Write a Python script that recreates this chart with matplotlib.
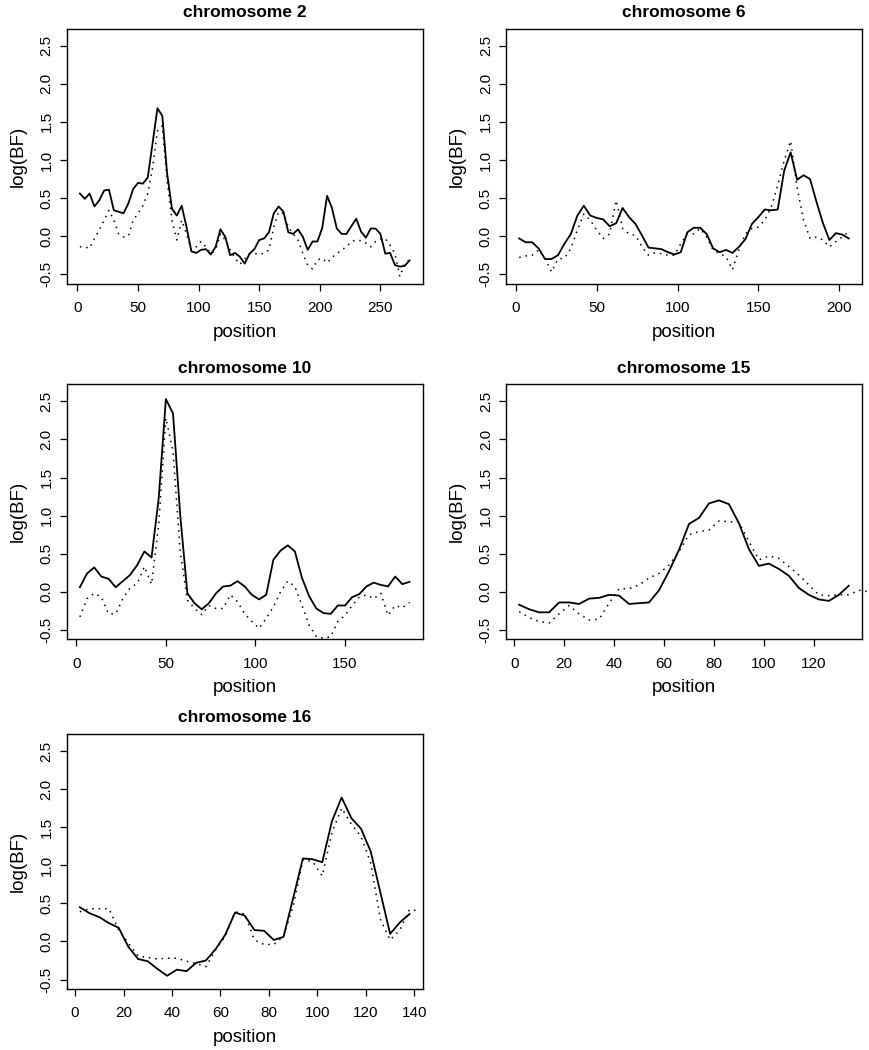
import matplotlib.pyplot as plt
import numpy as np

plt.rcParams['font.family'] = ['Liberation Sans', 'DejaVu Sans']

# log(BF) along each chromosome, solid and dotted curve (positions every 4 units from 2)
chr2_solid = [0.56, 0.49, 0.56, 0.39, 0.47, 0.60, 0.61, 0.34, 0.32, 0.30, 0.43, 0.62,
              0.70, 0.69, 0.77, 1.22, 1.68, 1.58, 0.82, 0.36, 0.27, 0.40, 0.12, -0.20,
              -0.22, -0.18, -0.17, -0.24, -0.14, 0.09, -0.01, -0.25, -0.22, -0.27, -0.36, -0.23,
              -0.17, -0.05, -0.03, 0.05, 0.30, 0.39, 0.32, 0.05, 0.03, 0.09, -0.01, -0.18,
              -0.07, -0.07, 0.11, 0.53, 0.37, 0.10, 0.03, 0.03, 0.13, 0.23, 0.06, -0.02,
              0.10, 0.10, 0.03, -0.23, -0.22, -0.38, -0.40, -0.39, -0.32]
chr2_dotted = [-0.14, -0.14, -0.16, -0.03, 0.08, 0.21, 0.34, 0.21, 0.03, -0.01, 0.0, 0.21,
               0.30, 0.40, 0.56, 0.90, 1.38, 1.45, 0.73, 0.21, -0.05, 0.21, 0.03, -0.18,
               -0.14, -0.07, -0.14, -0.23, -0.18, 0.03, -0.05, -0.18, -0.29, -0.37, -0.30, -0.23,
               -0.23, -0.23, -0.23, -0.18, 0.12, 0.32, 0.30, 0.12, 0.03, -0.05, -0.23, -0.38,
               -0.43, -0.31, -0.29, -0.35, -0.28, -0.23, -0.18, -0.14, -0.07, -0.05, -0.06, -0.09,
               -0.14, -0.07, -0.04, -0.03, -0.12, -0.23, -0.53, -0.36, -0.31]

chr6_solid = [-0.03, -0.08, -0.08, -0.16, -0.30, -0.30, -0.25, -0.10, 0.03, 0.27, 0.40, 0.27,
              0.24, 0.22, 0.13, 0.17, 0.37, 0.25, 0.16, 0.01, -0.15, -0.16, -0.17, -0.21,
              -0.24, -0.21, 0.05, 0.11, 0.11, 0.03, -0.16, -0.21, -0.18, -0.22, -0.14, -0.04,
              0.16, 0.25, 0.35, 0.34, 0.35, 0.86, 1.10, 0.74, 0.80, 0.75, 0.45, 0.17,
              -0.05, 0.04, 0.02, -0.03]
chr6_dotted = [-0.28, -0.26, -0.25, -0.18, -0.29, -0.47, -0.30, -0.29, -0.16, 0.08, 0.29, 0.21,
               0.08, -0.03, 0.03, 0.47, 0.10, 0.03, 0.01, -0.14, -0.25, -0.22, -0.23, -0.25,
               -0.25, -0.10, 0.03, 0.03, 0.10, -0.01, -0.18, -0.23, -0.27, -0.44, -0.18, 0.03,
               0.10, 0.12, 0.21, 0.38, 0.67, 0.99, 1.25, 0.64, 0.21, -0.03, -0.01, -0.05,
               -0.14, -0.07, -0.01, 0.06]

chr10_solid = [0.06, 0.24, 0.32, 0.20, 0.17, 0.06, 0.14, 0.22, 0.35, 0.53, 0.45, 1.23,
               2.53, 2.34, 1.01, -0.02, -0.15, -0.23, -0.15, -0.02, 0.07, 0.08, 0.14, 0.07,
               -0.04, -0.10, -0.04, 0.42, 0.54, 0.61, 0.53, 0.18, -0.06, -0.22, -0.28, -0.29,
               -0.18, -0.18, -0.07, -0.03, 0.07, 0.12, 0.09, 0.07, 0.20, 0.10, 0.13]
chr10_dotted = [-0.33, -0.09, -0.02, -0.07, -0.29, -0.29, -0.09, 0.05, 0.11, 0.33, 0.10, 0.88,
                2.28, 1.84, 0.53, -0.11, -0.22, -0.30, -0.18, -0.22, -0.22, -0.04, -0.13, -0.29,
                -0.39, -0.48, -0.35, -0.20, 0.00, 0.14, 0.07, -0.18, -0.44, -0.59, -0.61, -0.59,
                -0.39, -0.31, -0.18, -0.07, -0.04, -0.09, -0.02, -0.31, -0.18, -0.21, -0.14]

chr15_solid = [-0.17, -0.23, -0.27, -0.27, -0.14, -0.14, -0.16, -0.09, -0.08, -0.04, -0.05, -0.16,
               -0.15, -0.14, 0.02, 0.27, 0.55, 0.89, 0.97, 1.16, 1.20, 1.15, 0.90, 0.56,
               0.34, 0.37, 0.30, 0.21, 0.05, -0.04, -0.10, -0.12, -0.04, 0.08]
chr15_dotted = [-0.26, -0.34, -0.39, -0.41, -0.29, -0.18, -0.29, -0.37, -0.36, -0.15, 0.04, 0.04,
                0.09, 0.18, 0.24, 0.35, 0.53, 0.75, 0.79, 0.81, 0.93, 0.92, 0.91, 0.66,
                0.42, 0.47, 0.44, 0.33, 0.22, 0.09, -0.04, -0.05, -0.04, -0.04, 0.02, 0.00]

chr16_solid = [0.45, 0.37, 0.32, 0.24, 0.18, -0.07, -0.23, -0.26, -0.36, -0.45, -0.37, -0.39,
               -0.28, -0.25, -0.10, 0.09, 0.38, 0.34, 0.15, 0.14, 0.02, 0.06, 0.57, 1.09,
               1.08, 1.04, 1.58, 1.89, 1.62, 1.48, 1.18, 0.64, 0.10, 0.25, 0.36]
chr16_dotted = [0.39, 0.43, 0.43, 0.43, 0.15, -0.02, -0.19, -0.21, -0.23, -0.22, -0.22, -0.26,
                -0.29, -0.33, -0.11, 0.07, 0.39, 0.36, 0.02, -0.04, -0.04, 0.07, 0.46, 1.07,
                1.05, 0.86, 1.43, 1.75, 1.54, 1.38, 1.03, 0.29, 0.02, 0.15, 0.42, 0.40]

titles = ['chromosome 2', 'chromosome 6', 'chromosome 10', 'chromosome 15', 'chromosome 16']
solids = [chr2_solid, chr6_solid, chr10_solid, chr15_solid, chr16_solid]
dotteds = [chr2_dotted, chr6_dotted, chr10_dotted, chr15_dotted, chr16_dotted]
xticks = [[0, 50, 100, 150, 200, 250], [0, 50, 100, 150, 200], [0, 50, 100, 150],
          [0, 20, 40, 60, 80, 100, 120], [0, 20, 40, 60, 80, 100, 120, 140]]
yticks = [-0.5, 0.0, 0.5, 1.0, 1.5, 2.0, 2.5]
ytick_labels = ['-0.5', '0.0', '0.5', '1.0', '1.5', '2.0', '2.5']

W, H = 869, 1050
# panel boxes in pixels: left, top
boxes = [(66.7, 28.7), (506, 28.7), (66.7, 384.3), (506, 384.3), (66.7, 734)]
bw, bh = 356, 255

fig = plt.figure(figsize=(W / 100, H / 100), dpi=100)

for i in range(5):
    left, top = boxes[i]
    ax = fig.add_axes([left / W, 1 - (top + bh) / H, bw / W, bh / H])
    ys = solids[i]
    yd = dotteds[i]
    xs = np.arange(len(ys)) * 4 + 2
    xd = np.arange(len(yd)) * 4 + 2
    ax.plot(xs, ys, color='black', lw=1.3, clip_on=False)
    ax.plot(xd, yd, color='black', lw=1.1, linestyle=(0, (1, 3.2)), clip_on=False)

    # R-style 4% padding around the solid curve's x range and fixed y range
    x0, x1 = xs.min(), xs.max()
    pad = (x1 - x0) * 0.04
    ax.set_xlim(x0 - pad, x1 + pad)
    ax.set_ylim(-0.5 - 0.124, 2.6 + 0.124)

    ax.set_xticks(xticks[i])
    ax.set_xticklabels([str(t) for t in xticks[i]], fontsize=11)
    ax.set_yticks(yticks)
    ax.set_yticklabels(ytick_labels, fontsize=11, rotation=90, va='center')
    ax.tick_params(direction='out', length=5, width=0.9, colors='black')
    ax.tick_params(axis='x', pad=7.5)
    ax.tick_params(axis='y', pad=4.5)
    for s in ax.spines.values():
        s.set_linewidth(1.0)

    ax.text(0.5, 1 + 16.2 / bh, titles[i], transform=ax.transAxes, ha='center',
            va='center', fontsize=12.5, fontweight='bold')
    ax.text(0.5, -48.4 / bh, 'position', transform=ax.transAxes, ha='center',
            va='center', fontsize=13.5)
    ax.text(-48.7 / bw, 0.5, 'log(BF)', transform=ax.transAxes, ha='center',
            va='center', fontsize=13.5, rotation=90)

fig.savefig('out.png', dpi=100)
